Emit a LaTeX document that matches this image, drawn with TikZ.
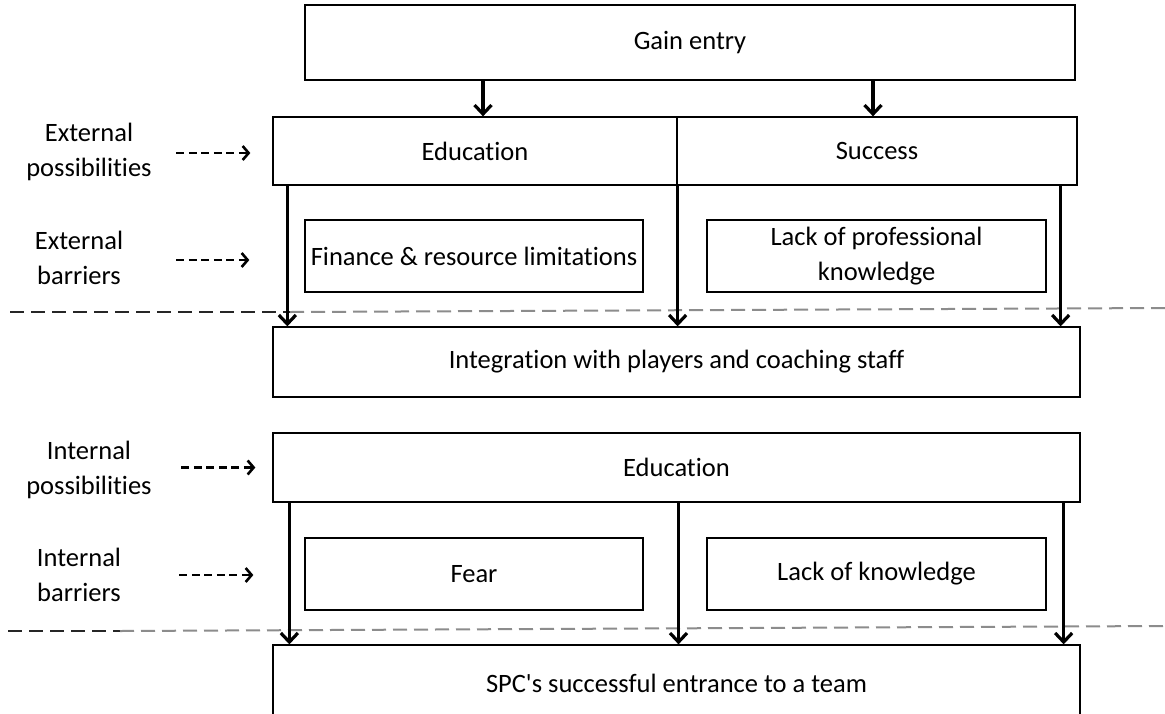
\documentclass[tikz,border=0pt]{standalone}
\usepackage{fontspec}
\setmainfont{Carlito}[RawFeature=-liga]
\usetikzlibrary{arrows.meta,calc}
\begin{document}
\begin{tikzpicture}[x=1pt,y=-1pt,
  box/.style={draw=black,line width=1.3pt,rectangle,inner sep=0pt,align=center,font=\fontsize{26.5}{35}\selectfont},
  lbl/.style={align=center,inner sep=0pt,font=\fontsize{26.5}{35}\selectfont},
  flow/.style={line width=3.6pt,-{Straight Barb[length=9pt,width=17pt,line width=3.2pt]}},
  hint/.style={line width=2.8pt,dash pattern=on 8pt off 4.5pt,-{Straight Barb[length=6pt,width=14pt,line width=2.6pt]}},
  sepdark/.style={line width=1.6pt,dash pattern=on 14pt off 7pt,draw=black!85},
  seplight/.style={line width=2pt,dash pattern=on 14pt off 7pt,draw=black!45}]
\useasboundingbox (0,0) rectangle (1165,713);
\fill[white] (0,0) rectangle (1165,713);

% main boxes
\node[box,minimum width=770pt,minimum height=75pt] (gain) at (690,42.5) {Gain entry};
\node[box,minimum width=404pt,minimum height=68pt] (edu) at (475,151) {Education};
\node[box,minimum width=400pt,minimum height=68pt] (succ) at (877,151) {Success};
\node[box,minimum width=338pt,minimum height=72pt] (fin) at (474,256) {Finance \& resource limitations};
\node[box,minimum width=339pt,minimum height=72pt] (prof) at (876.5,256) {Lack of professional\\knowledge};
\node[box,minimum width=807pt,minimum height=70pt] (integ) at (676.5,362) {Integration with players and coaching staff};
\node[box,minimum width=807pt,minimum height=69pt] (iedu) at (676.5,467.5) {Education};
\node[box,minimum width=338pt,minimum height=72pt] (fear) at (474,574) {Fear};
\node[box,minimum width=339pt,minimum height=72pt] (know) at (876.5,574) {Lack of knowledge};
\node[box,minimum width=807pt,minimum height=115pt,text height=0pt] (spc) at (676.5,702.5) {};
\node[lbl] (spct) at (676.5,683) {SPC\textquotesingle s successful entrance to a team};

% side labels
\node[lbl] (extp) at (89,152) {External\\possibilities};
\node[lbl] (extb) at (79,258) {External\\barriers};
\node[lbl] (intp) at (89,470) {Internal\\possibilities};
\node[lbl] (intb) at (79,575) {Internal\\barriers};

% separators
\draw[sepdark] (10,312) -- (290,312);
\draw[seplight] (290,312) -- (1165,308);
\draw[sepdark] (8,631) -- (120,631);
\draw[seplight] (120,631) -- (1165,626);

% arrows from the entry box
\draw[flow] ([xshift=8pt]edu.north |- gain.south) -- ([xshift=8pt]edu.north);
\draw[flow] ([xshift=-4pt]succ.north |- gain.south) -- ([xshift=-4pt]succ.north);

% external level arrows
\draw[flow] ([xshift=15pt]edu.south west) -- ([xshift=15pt]edu.south west |- integ.north);
\draw[flow] (edu.south east) -- (edu.south east |- integ.north);
\draw[flow] ([xshift=-17pt]succ.south east) -- ([xshift=-17pt]succ.south east |- integ.north);

% internal level arrows
\draw[flow] ([xshift=17pt]iedu.south west) -- ([xshift=17pt]iedu.south west |- spc.north);
\draw[flow] ([xshift=2pt]iedu.south) -- ([xshift=2pt]iedu.south |- spc.north);
\draw[flow] ([xshift=-17pt]iedu.south east) -- ([xshift=-17pt]iedu.south east |- spc.north);

% hint arrows (yshift is in page units, so negative moves down)
\draw[hint] ([xshift=-96pt,yshift=-2pt]edu.west) -- ([xshift=-22pt,yshift=-2pt]edu.west);
\draw[hint] ([xshift=-128pt,yshift=-4pt]fin.west) -- ([xshift=-55pt,yshift=-4pt]fin.west);
\draw[hint] ([xshift=-91pt]iedu.west) -- ([xshift=-17pt]iedu.west);
\draw[hint] ([xshift=-125pt,yshift=-1pt]fear.west) -- ([xshift=-51pt,yshift=-1pt]fear.west);
\end{tikzpicture}
\end{document}
